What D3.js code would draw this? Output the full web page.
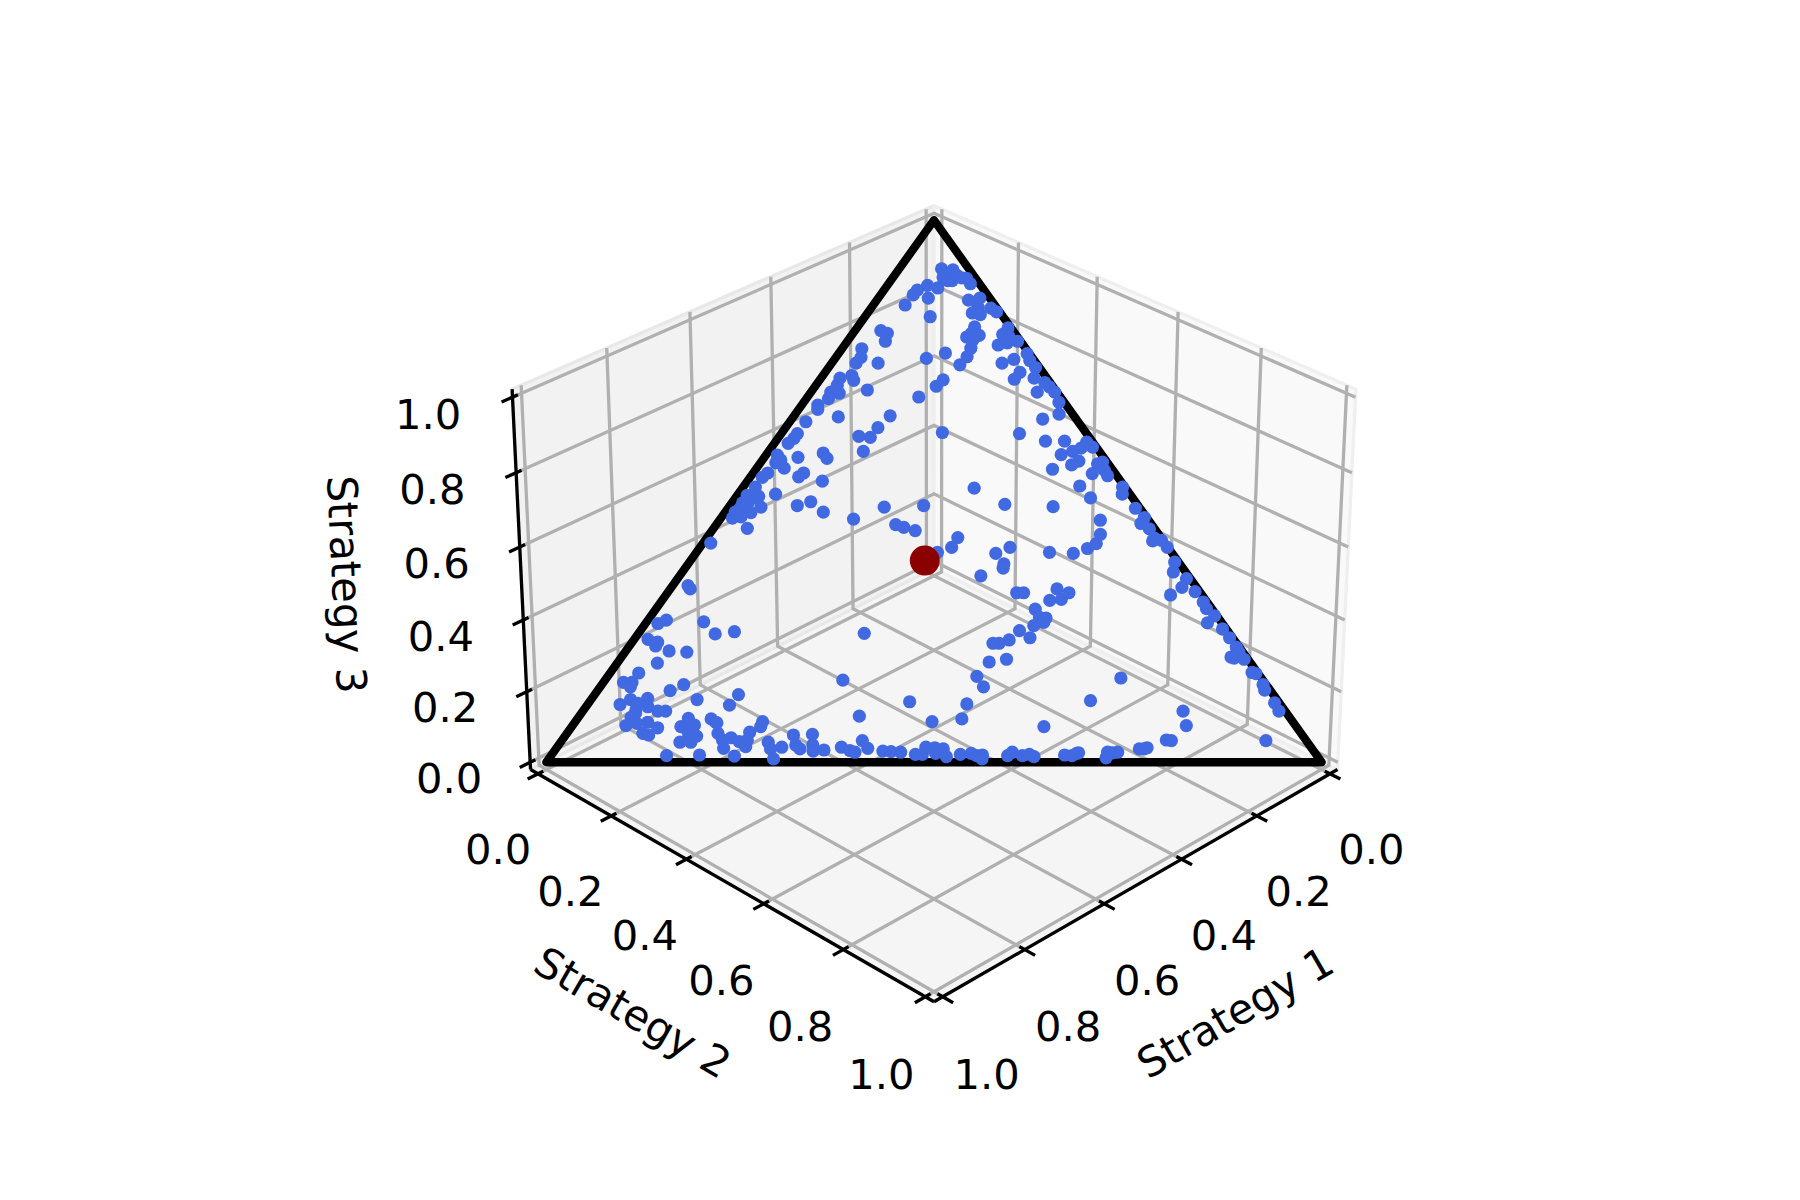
<!DOCTYPE html>
<html>
<head>
<title>Strategy simplex</title>
<meta charset="utf-8">
<script src="https://cdn.jsdelivr.net/npm/d3@7"></script>
<style>
  body { margin: 0; background: #fff; }
  text { font-family: "DejaVu Sans"; fill: #000; }
</style>
</head>
<body>
<svg width="1800" height="1200" id="mainsvg"></svg>
<script>

const strategy1 = [
  .036,.042,.039,.033,.022,.022,.018,.012,.012,.059,
  .070,.081,.088,.098,.118,.096,.030,.013,.024,.037,
  .028,.008,.004,.047,.049,.057,.067,.061,.072,.085,
  .102,.110,.140,.174,.168,.178,.208,.216,.225,.237,
  .272,.254,.004,.017,.011,.004,.033,.019,.003,.006,
  .005,.045,.026,.030,.044,.017,.138,.256,.282,.297,
  .287,.306,.326,.330,.247,.186,.153,.310,.241,.268,
  .287,.301,.309,.357,.379,.388,.400,.425,.425,.434,
  .428,.400,.363,.363,.407,.417,.390,.454,.465,.483,
  .463,.487,.501,.514,.506,.494,.512,.522,.529,.541,
  .531,.445,.424,.417,.384,.333,.280,.334,.326,.314,
  .592,.188,.532,.496,.026,.007,.005,.003,.007,.018,
  .044,.088,.061,.036,.053,.035,.008,.021,.005,.036,
  .049,.078,.006,.014,.030,.011,.012,.058,.055,.198,
  .173,.112,.003,.010,.006,.003,.013,.007,.063,.076,
  .090,.106,.265,.282,.206,.009,.002,.001,.159,.129,
  .230,.305,.229,.234,.270,.239,.230,.183,.203,.187,
  .230,.224,.232,.231,.247,.270,.263,.292,.308,.316,
  .338,.313,.367,.368,.405,.425,.474,.544,.477,.555,
  .466,.014,.005,.016,.005,.019,.041,.006,.005,.007,
  .003,.019,.005,.004,.004,.005,.020,.017,.005,.007,
  .003,.004,.007,.006,.008,.052,.182,.242,.132,.141,
  .180,.174,.212,.217,.223,.254,.261,.265,.267,.274,
  .305,.308,.316,.325,.171,.660,.660,.719,.733,.672,
  .668,.641,.760,.750,.756,.743,.721,.769,.802,.830,
  .819,.825,.754,.777,.750,.692,.713,.854,.836,.813,
  .830,.820,.839,.811,.801,.851,.778,.749,.746,.685,
  .834,.833,.842,.865,.849,.826,.850,.844,.795,.776,
  .790,.791,.783,.810,.796,.745,.753,.753,.759,.740,
  .733,.729,.711,.721,.692,.696,.699,.683,.704,.752,
  .796,.839,.657,.663,.661,.632,.641,.646,.631,.606,
  .598,.593,.573,.573,.556,.546,.534,.517,.508,.497,
  .486,.490,.476,.479,.459,.444,.439,.431,.435,.390,
  .399,.380,.370,.366,.326
];
const strategy2 = [
  .056,.066,.075,.081,.072,.082,.091,.098,.108,.069,
  .053,.066,.044,.043,.042,.086,.121,.134,.140,.138,
  .150,.158,.169,.154,.168,.156,.153,.164,.169,.172,
  .170,.140,.120,.034,.045,.050,.061,.026,.033,.032,
  .025,.038,.199,.198,.209,.224,.202,.212,.248,.258,
  .272,.224,.236,.256,.255,.280,.162,.045,.028,.026,
  .038,.029,.021,.025,.072,.146,.159,.059,.126,.121,
  .120,.104,.124,.021,.021,.021,.018,.015,.024,.020,
  .036,.044,.073,.083,.066,.063,.098,.019,.016,.016,
  .049,.029,.013,.014,.021,.042,.034,.016,.025,.015,
  .044,.088,.102,.128,.174,.203,.253,.234,.247,.265,
  .010,.210,.013,.023,.297,.298,.308,.320,.335,.346,
  .329,.312,.353,.378,.386,.398,.408,.406,.420,.415,
  .409,.388,.447,.442,.444,.457,.466,.439,.464,.303,
  .358,.423,.496,.502,.532,.552,.553,.569,.497,.510,
  .513,.506,.327,.328,.404,.584,.595,.609,.460,.492,
  .391,.314,.411,.414,.392,.454,.463,.503,.504,.518,
  .493,.515,.506,.516,.506,.492,.512,.487,.477,.469,
  .481,.501,.478,.496,.490,.497,.293,.308,.414,.362,
  .461,.584,.632,.639,.662,.664,.656,.685,.705,.715,
  .732,.729,.754,.771,.788,.796,.790,.795,.809,.831,
  .837,.856,.863,.887,.900,.909,.666,.647,.776,.793,
  .780,.787,.762,.759,.753,.728,.722,.718,.715,.718,
  .678,.676,.672,.662,.522,.020,.026,.024,.016,.074,
  .100,.123,.018,.033,.034,.056,.080,.052,.037,.026,
  .037,.039,.106,.094,.137,.186,.184,.042,.051,.072,
  .064,.080,.068,.097,.107,.068,.143,.173,.182,.242,
  .094,.064,.070,.069,.081,.112,.098,.107,.141,.157,
  .150,.157,.170,.154,.168,.184,.195,.207,.216,.216,
  .230,.243,.235,.239,.244,.268,.277,.290,.290,.237,
  .191,.149,.294,.306,.315,.318,.328,.334,.347,.367,
  .381,.389,.388,.402,.424,.435,.448,.469,.478,.476,
  .488,.494,.500,.511,.527,.540,.549,.556,.559,.592,
  .589,.608,.616,.624,.610
];
const strategy3 = [
  .908,.892,.886,.886,.906,.896,.891,.890,.880,.872,
  .877,.853,.868,.859,.840,.818,.849,.853,.836,.825,
  .822,.834,.827,.799,.783,.787,.780,.775,.759,.743,
  .728,.750,.740,.792,.787,.772,.731,.758,.742,.731,
  .703,.708,.797,.785,.780,.772,.765,.769,.749,.736,
  .723,.731,.738,.714,.701,.703,.700,.699,.690,.677,
  .675,.665,.653,.645,.681,.668,.688,.631,.633,.611,
  .593,.595,.567,.622,.600,.591,.582,.560,.551,.546,
  .536,.556,.564,.554,.527,.520,.512,.527,.519,.501,
  .488,.484,.486,.472,.473,.464,.454,.462,.446,.444,
  .425,.467,.474,.455,.442,.464,.467,.432,.427,.421,
  .398,.602,.455,.481,.677,.695,.687,.677,.658,.636,
  .627,.600,.586,.586,.561,.567,.584,.573,.575,.549,
  .542,.534,.547,.544,.526,.532,.522,.503,.481,.499,
  .469,.465,.501,.488,.462,.445,.434,.424,.440,.414,
  .397,.388,.408,.390,.390,.407,.403,.390,.381,.379,
  .379,.381,.360,.352,.338,.307,.307,.314,.293,.295,
  .277,.261,.262,.253,.247,.238,.225,.221,.215,.215,
  .181,.186,.155,.136,.105,.078,.233,.148,.109,.083,
  .073,.402,.363,.345,.333,.317,.303,.309,.290,.278,
  .265,.252,.241,.225,.208,.199,.190,.188,.186,.162,
  .160,.140,.130,.107,.092,.039,.152,.111,.092,.066,
  .040,.039,.026,.024,.024,.018,.017,.017,.018,.008,
  .017,.016,.012,.013,.307,.320,.314,.257,.251,.254,
  .232,.236,.222,.217,.210,.201,.199,.179,.161,.144,
  .144,.136,.140,.129,.113,.122,.103,.104,.113,.115,
  .106,.100,.093,.092,.092,.081,.079,.078,.072,.073,
  .072,.103,.088,.066,.070,.062,.052,.049,.064,.067,
  .060,.052,.047,.036,.036,.071,.052,.040,.025,.044,
  .037,.028,.054,.040,.064,.036,.024,.027,.006,.011,
  .013,.012,.049,.031,.024,.050,.031,.020,.022,.027,
  .021,.018,.039,.025,.020,.019,.018,.014,.014,.027,
  .026,.016,.024,.010,.014,.016,.012,.013,.006,.018,
  .012,.012,.014,.010,.064
];
const restPoint = [.329, .305, .366];
const simplexCorners = [[1, 0, 0], [0, 1, 0], [0, 0, 1]];
const tickValues = [0, .2, .4, .6, .8, 1];
const tickLabels = ['0.0', '0.2', '0.4', '0.6', '0.8', '1.0'];
const axisTitles = ['Strategy 1', 'Strategy 2', 'Strategy 3'];

const svg = d3.select('#mainsvg');

// box sizes and camera as in a 3d axes with elev 30, azim 45, dist 10
const xWorld = d3.scaleLinear().domain([0, 1]).range([0, 1.14286]);
const yWorld = d3.scaleLinear().domain([0, 1]).range([0, 1.14286]);
const zWorld = d3.scaleLinear().domain([0, 1]).range([0, 0.85714]);
const screenX = d3.scaleLinear().domain([0, 1]).range([934, 934 + 4900]);
const screenY = d3.scaleLinear().domain([0, 1]).range([583.6, 583.6 - 4916]);

const elev = 30 * Math.PI / 180, azim = 45 * Math.PI / 180, dist = 10;
const w = [Math.cos(elev) * Math.cos(azim), Math.cos(elev) * Math.sin(azim), Math.sin(elev)];
const uLen = Math.hypot(w[0], w[1]);
const u = [-w[1] / uLen, w[0] / uLen, 0];
const v = [w[1] * u[2] - w[2] * u[1], w[2] * u[0] - w[0] * u[2], w[0] * u[1] - w[1] * u[0]];
const dot = (a, b) => a[0] * b[0] + a[1] * b[1] + a[2] * b[2];

function project(a, b, c) {
  const p = [xWorld(a) - xWorld(.5), yWorld(b) - yWorld(.5), zWorld(c) - zWorld(.5)];
  const depth = dist - dot(p, w);
  return [screenX(dot(p, u) / depth), screenY(dot(p, v) / depth)];
}

const line = d3.line();
const lo = -1 / 48, hi = 1 + 1 / 48;
const tickOut = 0.025, tickIn = 0.0125;

// panes
const panes = [
  {fill: '#f5f5f5', pts: [[lo, lo, lo], [hi, lo, lo], [hi, hi, lo], [lo, hi, lo]]},
  {fill: '#f2f2f2', pts: [[lo, lo, lo], [hi, lo, lo], [hi, lo, hi], [lo, lo, hi]]},
  {fill: '#f9f9f9', pts: [[lo, lo, lo], [lo, hi, lo], [lo, hi, hi], [lo, lo, hi]]}
];
panes.forEach(d => {
  svg.append('path')
    .attr('d', line(d.pts.map(p => project(...p))) + 'Z')
    .attr('fill', d.fill)
    .attr('stroke', d3.color(d.fill).darker(0.12))
    .attr('stroke-width', 3.3)
    .attr('stroke-linejoin', 'round');
});

// grid lines
const grid = svg.append('g').attr('fill', 'none').attr('stroke', '#b0b0b0').attr('stroke-width', 3.3);
tickValues.forEach(t => {
  grid.append('path').attr('d', line([[t, hi, lo], [t, lo, lo], [t, lo, hi]].map(p => project(...p))));
  grid.append('path').attr('d', line([[hi, t, lo], [lo, t, lo], [lo, t, hi]].map(p => project(...p))));
  grid.append('path').attr('d', line([[hi, lo, t], [lo, lo, t], [lo, hi, t]].map(p => project(...p))));
});

// axis lines, ticks and labels
const axes = [
  {line: [[lo, hi, lo], [hi, hi, lo]],
   tick: (t, d) => [t, hi + d, lo], anchor: t => [t, hi, lo], off0: [41.3, 75], off1: [44, 77]},
  {line: [[hi, lo, lo], [hi, hi, lo]],
   tick: (t, d) => [hi + d, t, lo], anchor: t => [hi, t, lo], off0: [-39.9, 75], off1: [-44, 77]},
  {line: [[hi, lo, lo], [hi, lo, hi]],
   tick: (t, d) => [hi + d, lo, t], anchor: t => [hi, lo, t], off0: [-81, 15.5], off1: [-84.4, 17]}
];
const axisG = svg.append('g').attr('fill', 'none').attr('stroke', '#000').attr('stroke-width', 3.3);
axes.forEach(ax => {
  axisG.append('path').attr('d', line(ax.line.map(p => project(...p))));
  tickValues.forEach((t, i) => {
    axisG.append('path')
      .attr('d', line([ax.tick(t, tickOut), ax.tick(t, -tickIn)].map(p => project(...p))));
    const pos = project(...ax.anchor(t));
    svg.append('text')
      .attr('x', pos[0] + d3.interpolateNumber(ax.off0[0], ax.off1[0])(t))
      .attr('y', pos[1] + d3.interpolateNumber(ax.off0[1], ax.off1[1])(t) + 15)
      .attr('text-anchor', 'middle')
      .attr('font-size', 41.67)
      .text(tickLabels[i]);
  });
});

// axis titles
const titlePlaces = [
  {pos: project(.5, hi, lo), off: [93, 133], rot: -30},
  {pos: project(hi, .5, lo), off: [-93, 133], rot: 30},
  {pos: project(hi, lo, .5), off: [-177, 1], rot: 87.3}
];
titlePlaces.forEach((d, i) => {
  svg.append('text')
    .attr('transform', `translate(${d.pos[0] + d.off[0]},${d.pos[1] + d.off[1]}) rotate(${d.rot})`)
    .attr('text-anchor', 'middle')
    .attr('dy', '0.3em')
    .attr('font-size', 41.67)
    .text(axisTitles[i]);
});

// simplex outline
svg.append('path')
  .attr('d', line(simplexCorners.map(p => project(...p))) + 'Z')
  .attr('fill', 'none')
  .attr('stroke', '#000')
  .attr('stroke-width', 8.3)
  .attr('stroke-linejoin', 'round');

// trajectory points
svg.append('g').selectAll('circle')
  .data(d3.range(strategy1.length))
  .join('circle')
  .attr('cx', i => project(strategy1[i], strategy2[i], strategy3[i])[0])
  .attr('cy', i => project(strategy1[i], strategy2[i], strategy3[i])[1])
  .attr('r', 6.6)
  .attr('fill', '#4169e1');

const rest = project(...restPoint);
svg.append('circle')
  .attr('cx', rest[0])
  .attr('cy', rest[1])
  .attr('r', 15)
  .attr('fill', '#8b0000');

</script>
</body>
</html>
